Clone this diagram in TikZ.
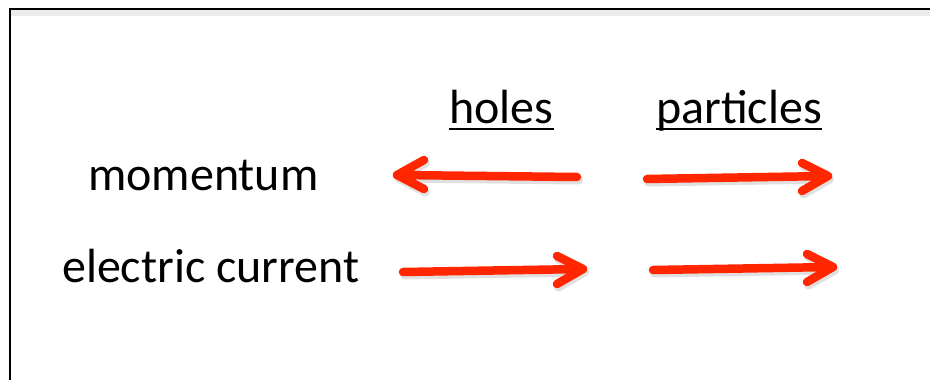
\documentclass[tikz,border=0pt]{standalone}
\usepackage{fontspec}
\setmainfont{Carlito}
\definecolor{arrred}{RGB}{255,38,0}
\tikzset{
  lbl/.style={inner sep=0pt, anchor=base west, font=\fontsize{48}{58}\selectfont},
  redline/.style={draw=arrred, line width=8.5pt, line cap=round, line join=round},
  shadowline/.style={draw=black, opacity=0.12, line width=9pt, line cap=round, line join=round},
  uline/.style={draw=black, line width=2.2pt}
}
\begin{document}
\begin{tikzpicture}[x=1pt,y=-1pt]
\useasboundingbox (0,0) rectangle (930,380);
% frame
\fill[black!8] (11,10) rectangle (930,16);
\draw[line width=2pt] (9.5,380) -- (9.5,9) -- (930,9);
% labels
\node[lbl] (mom) at (88,190) {momentum};
\node[lbl] (cur) at (62,282) {electric current};
\node[lbl] (hol) at (449,123) {holes};
\node[lbl] (par) at (656,123) {particles};
\draw[uline] ([yshift=-6pt]hol.base west) -- ([yshift=-6pt]hol.base east);
\draw[uline] ([yshift=-6pt]par.base west) -- ([yshift=-6pt]par.base east);
% arrow coordinates
\coordinate (a1t) at (577,177); \coordinate (a1h) at (397,175);
\coordinate (a1u) at (424,160); \coordinate (a1d) at (424,189);
\coordinate (a2t) at (647,179); \coordinate (a2h) at (828,176);
\coordinate (a2u) at (802,163); \coordinate (a2d) at (802,191);
\coordinate (a3t) at (403,272); \coordinate (a3h) at (583,269);
\coordinate (a3u) at (557,256); \coordinate (a3d) at (557,284);
\coordinate (a4t) at (653,270); \coordinate (a4h) at (833,267);
\coordinate (a4u) at (807,254); \coordinate (a4d) at (807,282);
% shadows
\foreach \a in {a1,a2,a3,a4}{
  \draw[shadowline, transform canvas={xshift=1.5pt,yshift=-3pt}] (\a t) -- (\a h) (\a u) -- (\a h) -- (\a d);
}
% arrows
\foreach \a in {a1,a2,a3,a4}{
  \draw[redline] (\a t) -- (\a h) (\a u) -- (\a h) -- (\a d);
}
\end{tikzpicture}
\end{document}
